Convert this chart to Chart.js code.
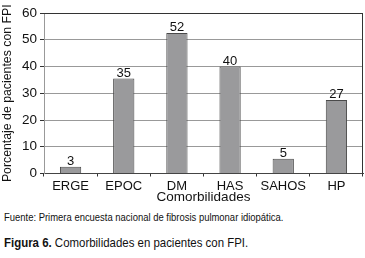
<!DOCTYPE html>
<html><head><meta charset="utf-8">
<script src="https://cdn.jsdelivr.net/npm/chart.js@4"></script>
<style>
html,body{margin:0;padding:0;background:#fff;width:365px;height:258px;overflow:hidden;}
#wrap{position:absolute;left:0;top:0;width:365px;height:206px;}
.note{position:absolute;left:4px;white-space:nowrap;color:#111;font-family:"Liberation Sans",Arial,sans-serif;transform-origin:0 0;}
#src{top:211px;font-size:10.5px;transform:scaleX(0.9);}
#cap{top:235px;font-size:13px;transform:scaleX(0.88);}
</style></head>
<body>
<div id="wrap"><canvas id="c"></canvas></div>
<div class="note" id="src">Fuente: Primera encuesta nacional de fibrosis pulmonar idiopática.</div>
<div class="note" id="cap"><b>Figura 6.</b> Comorbilidades en pacientes con FPI.</div>
<script>
const categories = ["ERGE","EPOC","DM","HAS","SAHOS","HP"];
const values = [2.5, 35.5, 52.5, 40, 5.5, 27.5];
const valueLabels = ["3","35","52","40","5","27"];
const yTicks = [0,10,20,30,40,50,60];

const FONT = "'Liberation Sans', Arial, sans-serif";

const barLabels = {
  id:'barLabels',
  afterDatasetsDraw(chart){
    const ctx = chart.ctx;
    const meta = chart.getDatasetMeta(0);
    ctx.save();
    ctx.font = "13px " + FONT;
    ctx.fillStyle = "#111";
    ctx.textAlign = "center";
    ctx.textBaseline = "alphabetic";
    meta.data.forEach((el,i)=>{
      ctx.fillText(valueLabels[i], el.x, el.y - 2);
    });
    ctx.restore();
  }
};
const frame = {
  id:'frame',
  afterDraw(chart){
    const a = chart.chartArea, ctx = chart.ctx;
    ctx.save();
    ctx.strokeStyle = "#333";
    ctx.lineWidth = 1;
    ctx.beginPath();
    ctx.moveTo(a.left, Math.round(a.top)+0.5);
    ctx.lineTo(Math.round(a.right)-0.5, Math.round(a.top)+0.5);
    ctx.lineTo(Math.round(a.right)-0.5, a.bottom);
    ctx.stroke();
    ctx.restore();
  }
};

new Chart(document.getElementById('c'), {
  type:'bar',
  data:{labels:categories, datasets:[{data:values, backgroundColor:"#9a9a9c", borderColor:"#4a4a4a", borderWidth:1, barPercentage:0.4, categoryPercentage:1}]},
  plugins:[barLabels, frame],
  options:{
    responsive:true, maintainAspectRatio:false, animation:false,
    layout:{padding:{top:13,right:2,left:0,bottom:0}},
    plugins:{legend:{display:false}, tooltip:{enabled:false}},
    scales:{
      x:{
        grid:{offset:true, drawOnChartArea:false, tickLength:3, tickColor:"#333", color:"#333"},
        border:{color:"#444"},
        ticks:{color:"#111", font:{family:FONT,size:13}, padding:2, maxRotation:0},
        title:{display:true, text:"Comorbilidades", color:"#111", font:{family:FONT,size:13.5}, padding:{top:0,bottom:1}},
        afterFit(s){ s.height = 32.5; }
      },
      y:{
        min:0, max:60,
        afterBuildTicks(s){ s.ticks = yTicks.map(v=>({value:v})); },
        grid:{color:(c)=> c.tick && c.tick.value===60 ? "#333" : "#999", tickColor:"#333", tickLength:4},
        border:{color:"#999"},
        ticks:{color:"#111", font:{family:FONT,size:13.5}, padding:3},
        title:{display:true, text:"Porcentaje de pacientes con FPI", color:"#111", font:{family:FONT,size:12.3}, padding:{top:0,bottom:2}},
        afterFit(s){ s.width = 44; }
      }
    }
  }
});
</script>
</body></html>
